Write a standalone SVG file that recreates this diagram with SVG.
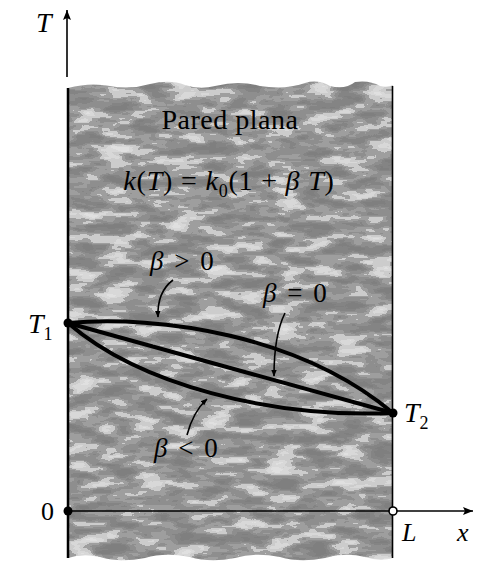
<svg xmlns="http://www.w3.org/2000/svg" width="477" height="566" viewBox="0 0 477 566">
<style>
  .t { font-family: "Liberation Serif", "Times New Roman", serif; fill: #000; }
  .it { font-style: italic; }
  .curve { fill: none; stroke: #000; stroke-width: 4; stroke-linecap: round; }
  .ptr { fill: none; stroke: #000; stroke-width: 1.6; marker-end: url(#ah); }
  .axis { fill: none; stroke: #000; stroke-width: 1.6; }
  .beta { font-size: 27px; letter-spacing: 2px; }
</style>
<defs>
  <marker id="ah" viewBox="0 0 10 10" refX="9" refY="5" markerWidth="7" markerHeight="7" orient="auto" markerUnits="userSpaceOnUse">
    <path d="M0,1 L10,5 L0,9 Z" fill="#000"/>
  </marker>
  <marker id="axh" viewBox="0 0 10 10" refX="10" refY="5" markerWidth="12" markerHeight="10" orient="auto" markerUnits="userSpaceOnUse">
    <path d="M0,1 L10,5 L0,9 L2,5 Z" fill="#000"/>
  </marker>
  <filter id="tex" x="0" y="0" width="100%" height="100%" color-interpolation-filters="sRGB">
    <feTurbulence type="fractalNoise" baseFrequency="0.03 0.09" numOctaves="3" seed="7" result="n"/>
    <feColorMatrix in="n" type="matrix" values="1 0 0 0 0  1 0 0 0 0  1 0 0 0 0  0 0 0 0 1" result="g"/>
    <feComponentTransfer in="g">
      <feFuncR type="discrete" tableValues="0.5 0.5 0.5 0.52 0.56 0.62 0.8 0.85 0.88 0.88"/>
      <feFuncG type="discrete" tableValues="0.5 0.5 0.5 0.52 0.56 0.62 0.8 0.85 0.88 0.88"/>
      <feFuncB type="discrete" tableValues="0.5 0.5 0.5 0.52 0.56 0.62 0.8 0.85 0.88 0.88"/>
    </feComponentTransfer>
  </filter>
  <clipPath id="wallclip">
    <path d="M68,88 Q90,82 110,86 Q130,90 150,84 Q170,79 185,85 Q200,90 215,86 Q240,80 260,86 Q285,90 305,83 Q318,79 330,86 Q345,90 355,82 Q370,80 380,86 Q388,88 393,85 L393,558 Q380,562 365,557 Q345,552 325,558 Q300,563 280,557 Q255,552 235,558 Q210,563 190,557 Q165,552 145,558 Q120,563 100,557 Q82,553 68,558 Z"/>
  </clipPath>
</defs>

<g id="wall">
  <rect x="60" y="75" width="340" height="495" fill="#999" filter="url(#tex)" clip-path="url(#wallclip)"/>
  <line x1="68" y1="88" x2="68" y2="558" stroke="#000" stroke-width="2.5"/>
  <line x1="392.5" y1="86" x2="392.5" y2="558" stroke="#000" stroke-width="1.6"/>
</g>

<g id="axes">
  <line class="axis" x1="67" y1="77" x2="67" y2="10" marker-end="url(#axh)"/>
  <line class="axis" x1="68" y1="511" x2="473" y2="511" marker-end="url(#axh)"/>
  <text class="t it" x="36" y="32" font-size="28">T</text>
  <text class="t it" x="457" y="541" font-size="26">x</text>
</g>

<g id="labels">
  <text class="t" x="230" y="129" font-size="28" letter-spacing="0.5" text-anchor="middle">Pared plana</text>
  <text class="t" x="229" y="190" font-size="28" letter-spacing="0.8" text-anchor="middle"><tspan class="it">k</tspan>(<tspan class="it">T</tspan>) = <tspan class="it">k</tspan><tspan font-size="18" dy="7">0</tspan><tspan dy="-7">(1 + </tspan><tspan class="it">β T</tspan>)</text>
</g>

<g id="curves">
  <path class="curve" d="M68,323 C160,315 300,335 393,413"/>
  <path class="curve" d="M68,323 L393,413"/>
  <path class="curve" d="M68,323 C140,385 270,418 393,413"/>
</g>

<g id="connectors">
  <path class="ptr" d="M173,280 Q157,292 158,317"/>
  <path class="ptr" d="M285,313 Q274,335 274,376"/>
  <path class="ptr" d="M187,435 Q193,412 207,399"/>
</g>

<g id="n-T1">
  <circle cx="68" cy="323" r="4.5" fill="#000"/>
  <text class="t it" x="28" y="333" font-size="28">T<tspan font-size="18" dy="7" font-style="normal">1</tspan></text>
</g>
<g id="n-T2">
  <circle cx="393" cy="413" r="4.5" fill="#000"/>
  <text class="t it" x="404" y="422" font-size="28">T<tspan font-size="18" dy="7" font-style="normal">2</tspan></text>
</g>
<g id="n-0">
  <circle cx="68" cy="511" r="4.5" fill="#000"/>
  <text class="t" x="41" y="520" font-size="26">0</text>
</g>
<g id="n-L">
  <circle cx="393" cy="511" r="4" fill="#fff" stroke="#000" stroke-width="1.6"/>
  <text class="t it" x="402" y="541" font-size="26">L</text>
</g>

<g id="beta-labels">
  <text class="t beta" x="150" y="270"><tspan class="it">β</tspan> &gt; 0</text>
  <text class="t beta" x="263" y="302"><tspan class="it">β</tspan> = 0</text>
  <text class="t beta" x="154" y="457"><tspan class="it">β</tspan> &lt; 0</text>
</g>
</svg>
